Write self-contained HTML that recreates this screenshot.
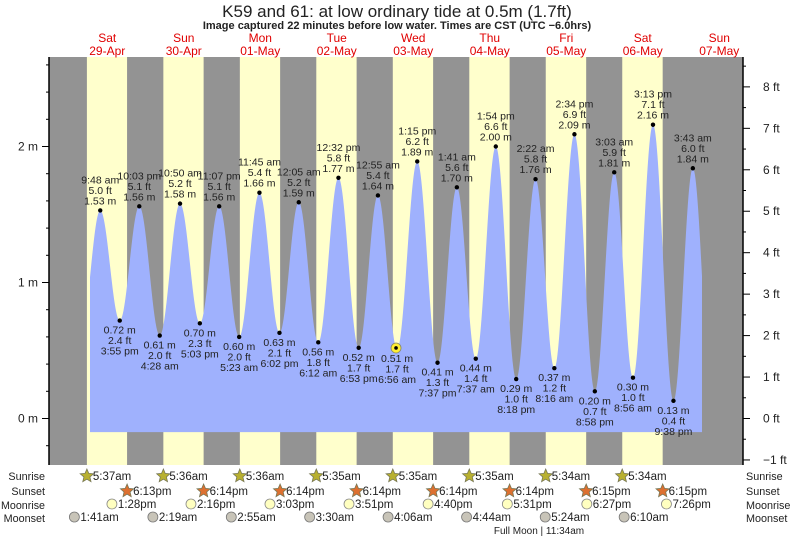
<!DOCTYPE html>
<html><head><meta charset="utf-8"><style>
body{margin:0;background:#fff;}
svg text{font-family:"Liberation Sans",sans-serif;}
</style></head><body>
<svg id="c" width="793" height="539" xmlns="http://www.w3.org/2000/svg">
<text x="397" y="17" text-anchor="middle" font-size="17" fill="#222">K59 and 61: at low  ordinary tide at 0.5m (1.7ft)</text>
<text x="397" y="29" text-anchor="middle" font-size="11" font-weight="bold" fill="#222">Image captured 22 minutes before low water. Times are CST (UTC −6.0hrs)</text>
<g id="g"></g>
</svg>
<script>
const dayNames=["Sat","Sun","Mon","Tue","Wed","Thu","Fri","Sat","Sun"];
const dayDates=["29-Apr","30-Apr","01-May","02-May","03-May","04-May","05-May","06-May","07-May"];
const tideDays=[0,0,0,1,1,1,1,2,2,2,3,3,3,3,4,4,4,4,5,5,5,5,6,6,6,6,7,7,7,7,8];
const tideTimes=["9:48 am","3:55 pm","10:03 pm","4:28 am","10:50 am","5:03 pm","11:07 pm","5:23 am","11:45 am","6:02 pm","12:05 am","6:12 am","12:32 pm","6:53 pm","12:55 am","6:56 am","1:15 pm","7:37 pm","1:41 am","7:37 am","1:54 pm","8:18 pm","2:22 am","8:16 am","2:34 pm","8:58 pm","3:03 am","8:56 am","3:13 pm","9:38 pm","3:43 am"];
const tideM=[1.53,0.72,1.56,0.61,1.58,0.70,1.56,0.60,1.66,0.63,1.59,0.56,1.77,0.52,1.64,0.51,1.89,0.41,1.70,0.44,2.00,0.29,1.76,0.37,2.09,0.20,1.81,0.30,2.16,0.13,1.84];
const tideFt=["5.0","2.4","5.1","2.0","5.2","2.3","5.1","2.0","5.4","2.1","5.2","1.8","5.8","1.7","5.4","1.7","6.2","1.3","5.6","1.4","6.6","1.0","5.8","1.2","6.9","0.7","5.9","1.0","7.1","0.4","6.0"];
const sunrise=["5:37am","5:36am","5:36am","5:35am","5:35am","5:35am","5:34am","5:34am"];
const sunset=["6:13pm","6:14pm","6:14pm","6:14pm","6:14pm","6:14pm","6:15pm","6:15pm"];
const moonrise=["1:28pm","2:16pm","3:03pm","3:51pm","4:40pm","5:31pm","6:27pm","7:26pm"];
const moonset=["1:41am","2:19am","2:55am","3:30am","4:06am","4:44am","5:24am","6:10am"];
const mTicks=[0,1,2];
const ftTicks=[-1,0,1,2,3,4,5,6,7,8];

const NS="http://www.w3.org/2000/svg",g=document.getElementById('g');
const X0=69,DAY=76.5,Y0=418.5,PPM=136;
const L=49,R=743,T=57,B=465;
function hrs(s){let m=s.match(/(\d+):(\d+)\s*(am|pm)/);let h=+m[1]%12;if(m[3]=="pm")h+=12;return h+ +m[2]/60;}
function xs(d,h){return X0+(d+h/24)*DAY;}
function ys(m){return Y0-m*PPM;}
function el(t,a,p){const e=document.createElementNS(NS,t);for(const k in a)e.setAttribute(k,a[k]);(p||g).appendChild(e);return e;}
function tx(x,y,s,fs,anc,fill){const e=el('text',{x:x,y:y,'font-size':fs,'text-anchor':anc||'middle'});e.style.fill=fill||'#222';e.textContent=s;return e;}

let bg=el('rect',{x:L,y:T,width:R-L,height:B-T,fill:'#939393'});


for(let d=0;d<8;d++){
  const a=xs(d,hrs(sunrise[d])),b=xs(d,hrs(sunset[d]));
  const r=el('rect',{x:a,y:T,width:b-a,height:B-T,fill:'#ffffcc'});
  
  
}
for(let d=0;d<9;d++){
  const t1=tx(xs(d,12),42,dayNames[d],12,'middle','#e00000');
  
  
  const t2=tx(xs(d,12),55,dayDates[d],12,'middle','#e00000');
  
  
}
const pts=tideM.map((m,i)=>[xs(tideDays[i],hrs(tideTimes[i])),m]);
const xa=90,xb=702;
const pre=[pts[0][0]-(pts[1][0]-pts[0][0]),0.62];
const post=[pts[pts.length-1][0]+(pts[pts.length-1][0]-pts[pts.length-2][0]),0.10];
const all=[pre,...pts,post];
function val(x){for(let i=0;i<all.length-1;i++){const[a,va]=all[i],[b,vb]=all[i+1];if(x>=a&&x<=b){const f=(x-a)/(b-a);return va+(vb-va)*(1-Math.cos(Math.PI*f))/2;}}return 0;}
let d=`M${xa},${ys(-0.1)}`;
for(let x=xa;x<=xb;x+=0.5)d+=` L${x},${ys(val(x)).toFixed(2)}`;
d+=` L${xb},${ys(-0.1)} Z`;
const area=el('path',{d:d,fill:'#9fb1fd'});


pts.forEach((p,i)=>{
  const x=p[0],y=ys(p[1]);
  const hi=p[1]>1.2;
  const c=el('circle',{cx:x,cy:y,r:2.2,fill:'#000'});
  
  
  const lines=hi?[tideTimes[i],tideFt[i]+" ft",tideM[i].toFixed(2)+" m"]:[tideM[i].toFixed(2)+" m",tideFt[i]+" ft",tideTimes[i]];
  const y0=hi?y-27:y+13;
  lines.forEach((s,k)=>{const t=tx(x,y0+k*10.5,s,10.5);
    
    });
});
const nx=xs(4,6.6),ny=ys(val(nx));
const cm=el('circle',{cx:nx,cy:ny,r:5,fill:'#ffee33',stroke:'#886',"stroke-width":0.8});


el('circle',{cx:nx,cy:ny,r:1.8,fill:'#000'});
const la=el('line',{x1:L,y1:T,x2:L,y2:B,stroke:'#000','stroke-width':1.5});


const ra=el('line',{x1:R,y1:T,x2:R,y2:B,stroke:'#000','stroke-width':1.5});


for(let v=-0.2;v<=2.85;v+=0.2){const y=ys(v);if(y<T||y>B)continue;el('line',{x1:L-3,y1:y,x2:L,y2:y,stroke:'#000'});}
mTicks.forEach(v=>{const y=ys(v);el('line',{x1:L-7,y1:y,x2:L,y2:y,stroke:'#000'});
  const t=tx(L-11,y+4,v+" m",12,'end');});
for(let f=-1;f<=8.6;f+=0.5){const y=ys(f*0.3048);if(y<T||y>B+1)continue;el('line',{x1:R,y1:y,x2:R+(f%1==0?7:3),y2:y,stroke:'#000'});}
ftTicks.forEach(f=>{const y=ys(f*0.3048);
  const t=tx(R+20,y+4,(f<0?"−"+(-f):f)+" ft",12,'start');});
function star(cx,cy,fill){let p="";for(let k=0;k<10;k++){const r=k%2?3.2:7,a=-Math.PI/2+k*Math.PI/5;p+=(cx+r*Math.cos(a)).toFixed(1)+","+(cy+r*Math.sin(a)).toFixed(1)+" ";}return el('polygon',{points:p,fill:fill,stroke:'#775','stroke-width':0.8});}
const rows=[["Sunrise",476],["Sunset",491],["Moonrise",505],["Moonset",518]];
rows.forEach(r=>{const a=tx(45,r[1]+4,r[0],10.8,'end');
  if(r[0]=="Moonrise"){a.setAttribute('textLength','44');a.setAttribute('lengthAdjust','spacingAndGlyphs');}
  const b=tx(746,r[1]+4,r[0],10.8,'start');});
for(let d=0;d<8;d++){
  let x=xs(d,hrs(sunrise[d]));const s1=star(x,476,'#b8b030');
  let t=tx(x+6,480,sunrise[d],11.5,'start');
  x=xs(d,hrs(sunset[d]));const s2=star(x,491,'#dd7030');
  t=tx(x+6,495,sunset[d],11.5,'start');
  x=xs(d,hrs(moonrise[d]));const m1=el('circle',{cx:x,cy:504,r:5,fill:'#ffffc0',stroke:'#888','stroke-width':0.8});
  t=tx(x+6,508,moonrise[d],11.5,'start');
  x=xs(d,hrs(moonset[d]));const m2=el('circle',{cx:x,cy:517,r:5,fill:'#c8c4b8',stroke:'#777','stroke-width':0.8});
  t=tx(x+6,521,moonset[d],11.5,'start');
}
const fm=tx(539,534,"Full Moon | 11:34am",10,'middle');


</script>
</body></html>
